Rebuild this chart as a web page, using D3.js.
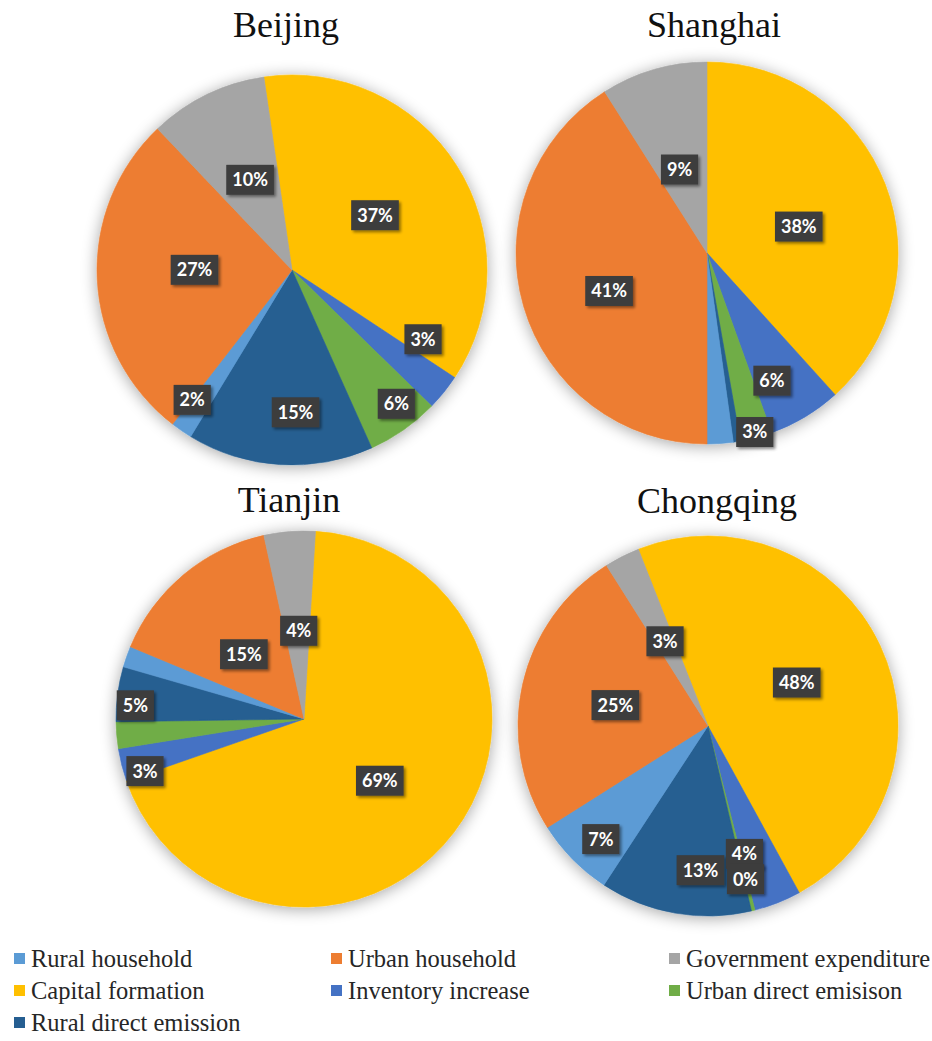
<!DOCTYPE html>
<html>
<head>
<meta charset="utf-8">
<script src="https://cdn.jsdelivr.net/npm/d3@7"></script>
<style>
  html, body { margin: 0; padding: 0; background: #ffffff; }
  svg { display: block; }
</style>
</head>
<body>
<svg id="chart" width="932" height="1041"></svg>
<script>
// ---------- data ----------
const categories = ["Rural household", "Urban household", "Government expenditure",
  "Capital formation", "Inventory increase", "Urban direct emisison", "Rural direct emission"];
const cities = ["Beijing", "Shanghai", "Tianjin", "Chongqing"];
// shares (%) in category order
const beijingValues   = [1.8, 27.4, 9.8, 36.6, 3.0, 6.0, 15.4];
const shanghaiValues  = [2.2, 41.0, 9.0, 38.3, 6.2, 2.7, 0.6];
const tianjinValues   = [1.8, 15.3, 4.4, 68.7, 2.8, 2.3, 4.7];
const chongqingValues = [6.8, 25.0, 3.0, 48.0, 4.0, 0.3, 12.9];

// ---------- styles / layout ----------
const colors = ["#5B9BD5", "#ED7D31", "#A5A5A5", "#FFC000", "#4472C4", "#70AD47", "#255E91"];
const sliceOrder = [3, 4, 5, 6, 0, 1, 2];        // clockwise drawing order
const labelDrawOrder = [6, 0, 1, 2, 3, 4, 5];
const layout = [
  { cx: 292, cy: 270, r: 195, start: -8.3, tx: 286, ty: 37,
    lr: [0.84, 0.50, 0.51, 0.51, 0.76, 0.87, 0.73], ls: [3, 3, 1, -1, -11, -3, -5] },
  { cx: 707, cy: 253, r: 191, start: 0, tx: 714, ty: 37,
    lr: [0, 0.55, 0.46, 0.50, 0.75, 0.97, 0], ls: [0, -5, -2, 5, 4, 0, 0] },
  { cx: 304, cy: 719, r: 188, start: 3.5, tx: 289, ty: 512,
    lr: [0, 0.47, 0.47, 0.52, 0.89, 0, 0.90], ls: [0, -3, 1, 2, -4, 0, -3] },
  { cx: 708, cy: 726, r: 190, start: -21.5, tx: 717, ty: 513,
    lr: [0.82, 0.50, 0.50, 0.52, 0.70, 0.83, 0.76], ls: [-2, 0, 0, -1, 5.6, 0, -7] }
];
const cityValues = [beijingValues, shanghaiValues, tianjinValues, chongqingValues];

const svg = d3.select("#chart");
const defs = svg.append("defs");

// soft glow shadow around pies
const glow = defs.append("filter").attr("id", "glow")
  .attr("x", "-20%").attr("y", "-20%").attr("width", "140%").attr("height", "140%");
glow.append("feGaussianBlur").attr("in", "SourceAlpha").attr("stdDeviation", 8).attr("result", "b");
glow.append("feOffset").attr("in", "b").attr("dx", 0).attr("dy", 2).attr("result", "o");
glow.append("feComponentTransfer").attr("in", "o").attr("result", "s")
  .append("feFuncA").attr("type", "linear").attr("slope", 0.36);
const gm = glow.append("feMerge");
gm.append("feMergeNode").attr("in", "s");
gm.append("feMergeNode").attr("in", "SourceGraphic");

// label box shadow
const lsh = defs.append("filter").attr("id", "lsh")
  .attr("x", "-30%").attr("y", "-30%").attr("width", "160%").attr("height", "160%");
lsh.append("feGaussianBlur").attr("in", "SourceAlpha").attr("stdDeviation", 1.5).attr("result", "b");
lsh.append("feOffset").attr("in", "b").attr("dx", 2).attr("dy", 2).attr("result", "o");
lsh.append("feComponentTransfer").attr("in", "o").attr("result", "s")
  .append("feFuncA").attr("type", "linear").attr("slope", 0.45);
const lm = lsh.append("feMerge");
lm.append("feMergeNode").attr("in", "s");
lm.append("feMergeNode").attr("in", "SourceGraphic");

const color = d3.scaleOrdinal().domain(categories).range(colors);
const toRad = d => d * Math.PI / 180;

cities.forEach((city, ci) => {
  const L = layout[ci];
  const vals = cityValues[ci];
  const data = sliceOrder.map(k => ({ k, name: categories[k], v: vals[k] }));
  const pie = d3.pie().sort(null).value(d => d.v)
    .startAngle(toRad(L.start)).endAngle(toRad(L.start) + 2 * Math.PI);
  const arcs = pie(data);
  const arc = d3.arc().innerRadius(0).outerRadius(L.r);

  const g = svg.append("g").attr("transform", `translate(${L.cx},${L.cy})`);
  g.append("g").attr("filter", "url(#glow)")
    .selectAll("path").data(arcs).join("path")
    .attr("d", arc)
    .attr("fill", d => color(d.data.name))
    .attr("stroke", d => color(d.data.name))
    .attr("stroke-width", 0.6);

  // title
  svg.append("text")
    .attr("x", L.tx).attr("y", L.ty)
    .attr("text-anchor", "middle")
    .attr("font-family", "'Liberation Serif', 'Times New Roman', serif")
    .attr("font-size", 36)
    .attr("fill", "#111")
    .text(city);

  // data labels
  const byKey = {};
  arcs.forEach(a => byKey[a.data.k] = a);
  const lg = g.append("g");
  labelDrawOrder.forEach(k => {
    const rf = L.lr[k];
    if (!rf) return;
    const a = byKey[k];
    const ang = (a.startAngle + a.endAngle) / 2 + toRad(L.ls[k]);
    const x = Math.sin(ang) * rf * L.r;
    const y = -Math.cos(ang) * rf * L.r;
    const txt = Math.round(a.data.v) + "%";
    const item = lg.append("g").attr("transform", `translate(${x},${y})`);
    const rect = item.append("rect").attr("fill", "#3d3d3d").attr("filter", "url(#lsh)");
    const t = item.append("text")
      .attr("text-anchor", "middle")
      .attr("dy", "0.36em")
      .attr("font-family", "Lato, 'Open Sans', sans-serif")
      .attr("font-weight", "bold")
      .attr("font-size", 18)
      .attr("fill", "#ffffff")
      .text(txt);
    const w = t.node().getComputedTextLength() + 12;
    rect.attr("x", -w / 2).attr("y", -15).attr("width", w).attr("height", 30);
  });
});

// ---------- legend ----------
const legendCols = [14, 331, 669];
const legendRows = [967, 999, 1031];
const leg = svg.append("g");
categories.forEach((c, i) => {
  const x = legendCols[i % 3], y = legendRows[Math.floor(i / 3)];
  leg.append("rect").attr("x", x).attr("y", y - 14).attr("width", 11).attr("height", 11)
    .attr("fill", color(c));
  leg.append("text").attr("x", x + 17).attr("y", y)
    .attr("font-family", "'Liberation Serif', 'Times New Roman', serif")
    .attr("font-size", 24.5)
    .attr("fill", "#262626")
    .text(c);
});
</script>
</body>
</html>
